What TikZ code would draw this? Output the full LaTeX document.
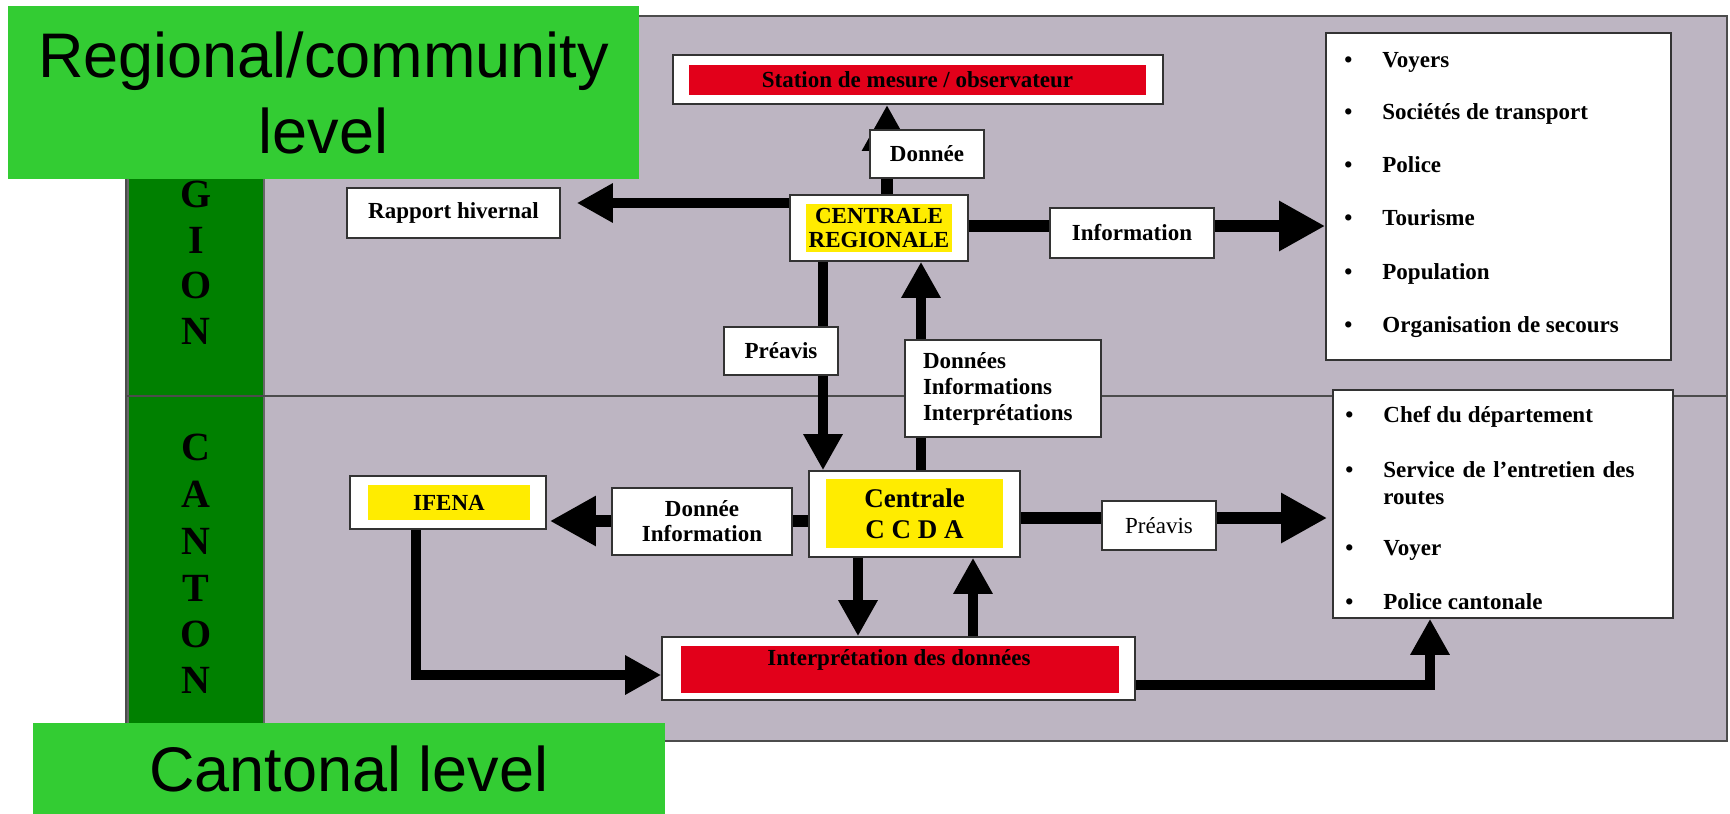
\documentclass[tikz,border=0pt]{standalone}
\usepackage{fontspec}
\setmainfont{Liberation Serif}
\newfontfamily\levelfont{Liberation Sans}
\usepackage{xcolor}
\usepackage{tikz}
\usetikzlibrary{arrows.meta,calc}
\definecolor{panelgray}{RGB}{189,181,194}
\definecolor{stripgreen}{RGB}{0,128,0}
\definecolor{levelgreen}{RGB}{51,204,51}
\definecolor{boxred}{RGB}{226,0,26}
\definecolor{boxyellow}{RGB}{255,236,0}

\begin{document}
\begin{tikzpicture}[x=0.5pt,y=-0.5pt,
    box/.style={draw=black!80,fill=white,line width=0.8pt,inner sep=0pt},
    txt/.style={font=\bfseries\fontsize{11.5}{13}\selectfont},
    item/.style={txt,anchor=base west,inner sep=0pt},
    letter/.style={font=\bfseries\fontsize{20}{20}\selectfont},
    arr/.style={line width=5pt,-{Triangle[length=18pt,width=18.5pt]}},
    bigarr/.style={line width=6pt,-{Triangle[length=23pt,width=23.5pt]}}]
      \useasboundingbox(0,0)rectangle(1730,814);
      \draw[fill=panelgray,draw=black!70,line width=0.6pt](126,16)rectangle(1727,741);
      \draw[fill=stripgreen,draw=black!60,line width=0.6pt](128,17)rectangle(264,740);
      \draw[black!70,line width=0.6pt](126,396)--(1727,396);
      \draw(196,194)node[letter](regG){G};
      \draw(196,240)node[letter](regI){I};
      \draw(196,285)node[letter](regO){O};
      \draw(196,331)node[letter](regN){N};
      \draw(196,447)node[letter](canC){C};
      \draw(196,494)node[letter](canA){A};
      \draw(196,541)node[letter](canN){N};
      \draw(196,588)node[letter](canT){T};
      \draw(196,634)node[letter](canO){O};
      \draw(196,680)node[letter](canNN){N};
      \draw(918,79.5)node[box,minimum width=245pt,minimum height=24.5pt](station){};
      \draw(917.5,80)node[fill=boxred,minimum width=228.5pt,minimum height=15pt,inner sep=0pt,txt](stationtxt){Station de mesure / observateur};
      \draw(879,228)node[box,minimum width=89pt,minimum height=33pt](cr){};
      \draw(879,228)node[fill=boxyellow,minimum width=73pt,minimum height=24pt,inner sep=0pt,align=center,font=\bfseries\fontsize{11.5}{12}\selectfont](crtxt){CENTRALE\\REGIONALE};
      \draw(453.5,213)node[box,minimum width=106.5pt,minimum height=25pt,txt](rapport){Rapport hivernal};
      \draw(1498.5,196.5)node[box,minimum width=172.5pt,minimum height=163.5pt](listR){};
      \draw(1344,67.5)node[item](voyers){\makebox[19pt][l]{\textbullet}Voyers};
      \draw(1344,119.5)node[item](societes){\makebox[19pt][l]{\textbullet}Sociétés de transport};
      \draw(1344,172.5)node[item](police){\makebox[19pt][l]{\textbullet}Police};
      \draw(1344,225.5)node[item](tourisme){\makebox[19pt][l]{\textbullet}Tourisme};
      \draw(1344,279.5)node[item](population){\makebox[19pt][l]{\textbullet}Population};
      \draw(1344,332.5)node[item](secours){\makebox[19pt][l]{\textbullet}Organisation de secours};
      \draw(914.5,514)node[box,minimum width=105.5pt,minimum height=43pt](ccda){};
      \draw(914.5,513.5)node[fill=boxyellow,minimum width=88.5pt,minimum height=34.5pt,inner sep=0pt,align=center,font=\bfseries\fontsize{13.5}{15.5}\selectfont](ccdatxt){Centrale\\C C D A};
      \draw(448,502.5)node[box,minimum width=98pt,minimum height=26.5pt](ifena){};
      \draw(449,502.5)node[fill=boxyellow,minimum width=81pt,minimum height=17.5pt,inner sep=0pt,txt](ifenatxt){IFENA};
      \draw(1503,504)node[box,minimum width=170pt,minimum height=114pt](listC){};
      \draw(1345,422.5)node[item](chef){\makebox[19pt][l]{\textbullet}Chef du département};
      \draw(1345,477.5)node[item,text width=160pt,align=left,font=\bfseries\fontsize{11.5}{13.5}\selectfont](service){\makebox[19pt][l]{\textbullet}Service de l’entretien des\\\hspace*{19pt}routes};
      \draw(1345,555.5)node[item](voyer){\makebox[19pt][l]{\textbullet}Voyer};
      \draw(1345,609.5)node[item](policec){\makebox[19pt][l]{\textbullet}Police cantonale};
      \draw(898.5,668.5)node[box,minimum width=236.5pt,minimum height=31.5pt](interp){};
      \draw(900,669.5)node[fill=boxred,minimum width=219pt,minimum height=23.5pt,inner sep=0pt](interpred){};
      \draw(899,660)node[txt](interptxt){Interprétation des données};
      \draw[bigarr]($(cr.north)+(8,0)$)coordinate(a1)--(a1|-station.south);
      \draw[arr,shorten >=8pt]($(cr.west)+(0,-25)$)coordinate(b1)--(b1-|rapport.east);
      \draw[bigarr]($(cr.east)+(0,-2)$)coordinate(c1)--(c1-|listR.west);
      \draw[arr]($(cr.south)+(-56,0)$)coordinate(d1)--(d1|-ccda.north);
      \draw[arr]($(ccda.north)+(6.5,0)$)coordinate(e1)--(e1|-cr.south);
      \draw[bigarr,shorten >=1.5pt]($(ccda.west)+(0,7)$)coordinate(f1)--(f1-|ifena.east);
      \draw[bigarr,shorten >=2.5pt]($(ccda.east)+(0,4)$)coordinate(g1)--(g1-|listC.west);
      \draw[arr]($(ccda.south)+(-56.5,0)$)coordinate(h1)--(h1|-interp.north);
      \draw[arr]($(interp.north)+(74.5,0)$)coordinate(i1)--(i1|-ccda.south);
      \draw[arr]($(ifena.south)+(-32,0)$)|-($(interp.west)+(0,6.5)$);
      \draw[arr]($(interp.east)+(0,16.5)$)-|($(listC.south)+(-73,0)$);
      \draw(927,154)node[box,minimum width=57pt,minimum height=24pt,txt](donnee){Donnée};
      \draw(1132,233)node[box,minimum width=82pt,minimum height=25pt,txt](info){Information};
      \draw(781,351)node[box,minimum width=57pt,minimum height=24pt,txt](preavisR){Préavis};
      \draw(1003,388.5)node[box,text width=80pt,inner xsep=9pt,minimum height=48.5pt,align=left,txt](donnees){Données\\Informations\\Interprétations};
      \draw(702,521.5)node[box,minimum width=90pt,minimum height=33.5pt,align=center,font=\bfseries\fontsize{11.5}{12.5}\selectfont](donneeinfo){Donnée\\Information};
      \draw(1159,525.5)node[box,minimum width=57pt,minimum height=24.5pt,font=\fontsize{11.5}{13}\selectfont](preavisC){Préavis};
      \draw(323.5,92.5)node[fill=levelgreen,minimum width=315.5pt,minimum height=86.5pt,inner sep=0pt,align=center,font=\levelfont\fontsize{31.5}{38}\selectfont](regional){Regional/community\\level};
      \draw(349,768.5)node[fill=levelgreen,minimum width=316pt,minimum height=45.5pt,inner sep=0pt,font=\levelfont\fontsize{31.5}{38}\selectfont](cantonal){Cantonal level};
\end{tikzpicture}
\end{document}
